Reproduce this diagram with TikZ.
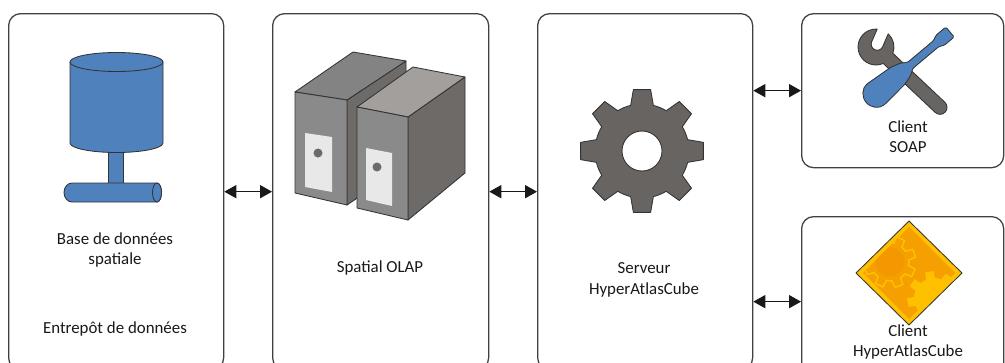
\documentclass[tikz,border=0pt]{standalone}
\usepackage{fontspec}
\setmainfont{Carlito}
\usetikzlibrary{positioning, calc, arrows.meta}

\definecolor{dbblue}{HTML}{4F81BD}
\definecolor{toolgray}{HTML}{686462}
\definecolor{srvfront}{HTML}{8A8A8A}
\definecolor{srvtop}{HTML}{A29F9C}
\definecolor{srvside}{HTML}{6D6A68}
\definecolor{srvpanel}{HTML}{E8E8E8}
\definecolor{atlasyellow}{HTML}{FFC000}
\definecolor{atlasorange}{HTML}{F5A000}
\definecolor{atlasdark}{HTML}{F39800}

\begin{document}
\begin{tikzpicture}[x=0.025cm, y=-0.025cm,
  panel/.style={rectangle, rounded corners=0.3cm, draw=black!75, line width=0.9pt, fill=white, anchor=north west, inner sep=0pt},
  label/.style={align=center, font=\fontsize{12}{14.5}\selectfont, text=black!90},
  bi_arrow/.style={{Triangle[length=0.3cm, width=0.33cm]}-{Triangle[length=0.3cm, width=0.33cm]}, line width=0.7pt, black!90},
  outline/.style={draw=black!80, line width=0.6pt, line join=round}
]

\useasboundingbox (0,0) rectangle (1005,362);
\clip (0,0) rectangle (1005,362);

% Boxes
\node[panel, minimum width=5.375cm, minimum height=8.9cm] (entrepot) at (8,13) {};
\node[panel, minimum width=5.4cm, minimum height=8.9cm] (olap) at (272,13) {};
\node[panel, minimum width=5.375cm, minimum height=8.9cm] (serveur) at (537,13) {};
\node[panel, minimum width=5.05cm, minimum height=3.85cm] (soap) at (801,13) {};
\node[panel, minimum width=5.05cm, minimum height=4.25cm] (client) at (801,216) {};

% Links
\draw[bi_arrow] (entrepot.east) -- (olap.west);
\draw[bi_arrow] (olap.east) -- (serveur.west);
\draw[bi_arrow] (serveur.east |- soap.west) -- (soap.west);
\draw[bi_arrow] (serveur.east |- client.west) -- (client.west);

% Labels
\node[label] (base_txt) at (115,250) {Base de données\\spatiale};
\node[label] (entrepot_txt) at (115,329) {Entrepôt de données};
\node[label] (olap_txt) at (380,268) {Spatial OLAP};
\node[label] (serveur_txt) at (644,280) {Serveur\\HyperAtlasCube};
\node[label] (soap_txt) at (908,137) {Client\\SOAP};
\node[label] (client_txt) at (908,342) {Client\\HyperAtlasCube};

% Database
\draw[outline, fill=dbblue] (108,145) rectangle (123,185);
\draw[outline, fill=dbblue] (157,183) -- (72,183) arc[start angle=-90, end angle=-270, x radius=8, y radius=9.5]
  -- (157,202) arc[start angle=90, end angle=-90, x radius=4.5, y radius=9.5] -- cycle;
\draw[outline, fill=dbblue] (157,192.5) ellipse[x radius=4.5, y radius=9.5];
\draw[outline, fill=dbblue] (70,62) -- (70,143) arc[start angle=180, end angle=0, x radius=46.5, y radius=9.5] -- (163,62) -- cycle;
\draw[outline, fill=dbblue] (116.5,62) ellipse[x radius=46.5, y radius=9.5];

% Servers
\draw[outline, fill=srvside] (347,100) -- (406,61) -- (406,165) -- (347,205) -- cycle;
\draw[outline, fill=srvfront!95!black] (295,92) -- (353,52) -- (406,61) -- (347,100) -- cycle;
\draw[outline, fill=srvfront] (295,92) -- (347,100) -- (347,205) -- (295,193) -- cycle;
\fill[srvpanel] (305,133) -- (332,137) -- (332,192) -- (305,187) -- cycle;
\fill[srvside] (318,153) circle[radius=4.5];
\draw[outline, fill=srvside] (408,117) -- (465,77) -- (465,173) -- (408,220) -- cycle;
\draw[outline, fill=srvtop] (357,107) -- (413,67) -- (465,77) -- (408,117) -- cycle;
\draw[outline, fill=srvfront] (357,107) -- (408,117) -- (408,220) -- (357,208) -- cycle;
\fill[srvpanel] (366,148) -- (392,153) -- (392,206) -- (366,200) -- cycle;
\fill[srvside] (377,167) circle[radius=4.5];

% Gear
\begin{scope}[shift={(642,151)}]
  \draw[outline, fill=toolgray, even odd rule] (-14:47)
    \foreach \a in {0,45,...,315} { -- (\a-8:62) -- (\a+8:62) -- (\a+14:47) arc[start angle=\a+14, end angle=\a+31, radius=47] }
    -- cycle (0,0) circle[radius=20];
\end{scope}

% Wrench
\begin{scope}[shift={(876,47)}, rotate=-43.3]
  \draw[outline, fill=toolgray] (269.47:18) arc[start angle=269.47, end angle=337.1, radius=18]
    -- (88,-7) arc[start angle=-90, end angle=90, radius=7] -- (22.9:18)
    arc[start angle=22.9, end angle=230.53, radius=18]
    -- ($(250:3)+(160:6)$) arc[start angle=160, end angle=-20, radius=6] -- cycle;
\end{scope}

% Screwdriver
\begin{scope}[shift={(950,32)}, rotate=220]
  \draw[outline, fill=dbblue, rounded corners=1pt] (0,-6.5) -- (13,-6.5) -- (18,-4) -- (52,-4) -- (58,-8) -- (68,-11) -- (96,-13.5)
    arc[start angle=-90, end angle=90, radius=13.5] -- (68,11) -- (58,8) -- (52,4) -- (18,4) -- (13,6.5) -- (0,6.5) -- cycle;
\end{scope}

% HyperAtlasCube logo
\draw[outline, fill=atlasyellow] (909,221) -- (962,273) -- (909,325) -- (856,273) -- cycle;
\begin{scope}
  \clip (909,227) -- (955,273) -- (909,319) -- (863,273) -- cycle;
  \fill[atlasorange] (909,227) -- (955,273) -- (909,319) -- (863,273) -- cycle;
  \begin{scope}[shift={(934,298)}, rotate=10]
    \fill[atlasyellow] (-13:20)
      \foreach \a in {0,45,...,315} { -- (\a-9:27) -- (\a+9:27) -- (\a+13:20) arc[start angle=\a+13, end angle=\a+32, radius=20] }
      -- cycle;
  \end{scope}
  \begin{scope}[shift={(890,262)}, rotate=20]
    \draw[atlasyellow, line width=1pt, fill=atlasorange] (-14:19)
      \foreach \a in {0,45,...,315} { -- (\a-9:26) -- (\a+9:26) -- (\a+14:19) arc[start angle=\a+14, end angle=\a+31, radius=19] }
      -- cycle;
    \fill[atlasdark] (0,0) circle[radius=14.5];
  \end{scope}
\end{scope}

\end{tikzpicture}
\end{document}
